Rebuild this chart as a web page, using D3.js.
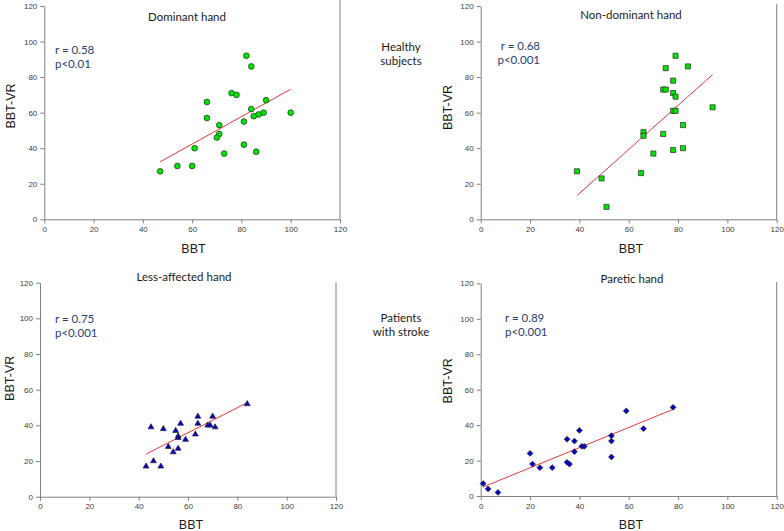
<!DOCTYPE html>
<html><head><meta charset="utf-8">
<script src="https://cdn.jsdelivr.net/npm/d3@7"></script>
<style>body{margin:0;background:#fff}svg{display:block}</style>
</head><body><svg id="c" width="784" height="531"></svg>
<script>
// ---- data ----
const xTicks = [0, 20, 40, 60, 80, 100, 120];
const yTicks = [0, 20, 40, 60, 80, 100, 120];
const titles = ["Dominant hand", "Non-dominant hand", "Less-affected hand", "Paretic hand"];
const statR = ["r = 0.58", "r = 0.68", "r = 0.75", "r = 0.89"];
const statP = ["p<0.01", "p<0.001", "p<0.001", "p<0.001"];
const groupLabels = [["Healthy", "subjects"], ["Patients", "with stroke"]];
const xLabel = "BBT";
const yLabel = "BBT-VR";

// Healthy subjects – dominant hand
const domBBT = [47, 54, 60, 61, 66, 66, 71, 71, 70, 73, 76, 78, 82, 84, 84, 81, 85, 87, 89, 90, 81, 86, 100];
const domVR  = [27, 30, 30, 40, 66, 57, 53, 48, 46, 37, 71, 70, 92, 86, 62, 55, 58, 59, 60, 67, 42, 38, 60];
// Healthy subjects – non-dominant hand
const nondomBBT = [39, 49, 51, 65, 66, 66, 70, 74, 74, 75, 75, 78, 78, 79, 78, 79, 79, 84, 82, 78, 82, 94];
const nondomVR  = [27, 23, 7, 26, 49, 47, 37, 48, 73, 73, 85, 78, 71, 69, 61, 61, 92, 86, 53, 39, 40, 63];
// Patients with stroke – less-affected hand
const lessBBT = [43, 46, 49, 45, 50, 52, 54, 56, 55, 57, 56, 56, 59, 63, 64, 64, 68, 69, 70, 71, 84];
const lessVR  = [17, 20, 17, 39, 38, 28, 25, 27, 37, 41, 34, 33, 32, 35, 45, 41, 40, 40, 45, 39, 52];
// Patients with stroke – paretic hand
const pareticBBT = [1, 3, 7, 20, 21, 24, 29, 35, 35, 36, 38, 38, 40, 41, 42, 53, 53, 53, 59, 66, 78];
const pareticVR  = [7, 4, 2, 24, 18, 16, 16, 32, 19, 18, 31, 25, 37, 28, 28, 34, 31, 22, 48, 38, 50];

// regression line end points
const fitDomBBT = [47, 100],   fitDomVR = [32.3, 73.2];
const fitNondomBBT = [39, 94], fitNondomVR = [13.3, 81.4];
const fitLessBBT = [43, 84],   fitLessVR = [23.9, 52.7];
const fitPareticBBT = [1, 78], fitPareticVR = [5.1, 48.9];

// ---- layout ----
const panels = [
  {xs: domBBT, ys: domVR, fx: fitDomBBT, fy: fitDomVR, sym: "circle", fill: "#00e400",
   px: [44.3, 340], py: [219.3, 6], borderTop: 0,
   title: [187, 20.5], r: [55, 53.5, "start"], p: [55, 67.5],
   xl: [193.5, 253], yl: [15, 106]},
  {xs: nondomBBT, ys: nondomVR, fx: fitNondomBBT, fy: fitNondomVR, sym: "square", fill: "#00e400",
   px: [480.7, 776.7], py: [219.3, 6], borderTop: 4,
   title: [631, 18.7], r: [540, 50, "end"], p: [540, 64],
   xl: [631, 253.3], yl: [451.7, 107.5]},
  {xs: lessBBT, ys: lessVR, fx: fitLessBBT, fy: fitLessVR, sym: "triangle", fill: "#0000cc",
   px: [40, 336], py: [496.7, 282.7], borderTop: 282,
   title: [184, 281], r: [55, 322.7, "start"], p: [55, 336.7],
   xl: [191, 529], yl: [14.3, 378.3]},
  {xs: pareticBBT, ys: pareticVR, fx: fitPareticBBT, fy: fitPareticVR, sym: "diamond", fill: "#0000cc",
   px: [480.7, 776.7], py: [496, 283.3], borderTop: 282,
   title: [632, 282.5], r: [505, 322.3, "start"], p: [505, 336.3],
   xl: [631, 529], yl: [451.7, 380.8]}
];

const svg = d3.select("#c");
const axisColor = "#808080";
const tickFont = "'Liberation Sans', Arial, sans-serif";
const calFont = "Lato, 'Open Sans', sans-serif";

panels.forEach((P, i) => {
  const x = d3.scaleLinear().domain([0, 120]).range(P.px);
  const y = d3.scaleLinear().domain([0, 120]).range(P.py);
  const g = svg.append("g");

  // right border line
  g.append("line").attr("x1", x(120)).attr("x2", x(120))
    .attr("y1", P.borderTop).attr("y2", y(0))
    .attr("stroke", axisColor).attr("stroke-width", 1);

  const ax = g.append("g").attr("transform", `translate(0,${y(0)})`)
    .call(d3.axisBottom(x).tickValues(xTicks).tickSize(4).tickSizeOuter(0).tickPadding(3));
  const ay = g.append("g").attr("transform", `translate(${x(0)},0)`)
    .call(d3.axisLeft(y).tickValues(yTicks).tickSize(4).tickSizeOuter(0).tickPadding(3));
  [ax, ay].forEach(a => {
    a.select(".domain").attr("stroke", axisColor);
    a.selectAll(".tick line").attr("stroke", axisColor);
    a.selectAll(".tick text").attr("fill", "#404040")
      .style("font-family", tickFont).style("font-size", "8px");
  });

  // fit line
  const fit = d3.zip(P.fx, P.fy);
  g.append("path").datum(fit)
    .attr("d", d3.line().x(d => x(d[0])).y(d => y(d[1])))
    .attr("stroke", "#e8393d").attr("stroke-width", 1).attr("fill", "none");

  // markers
  const pts = d3.zip(P.xs, P.ys);
  let symType, size, rot = 0;
  if (P.sym === "circle") { symType = d3.symbolCircle; size = Math.PI * 2.9 * 2.9; }
  else if (P.sym === "square") { symType = d3.symbolSquare; size = 26; }
  else if (P.sym === "triangle") { symType = d3.symbolTriangle; size = 15; }
  else { symType = d3.symbolSquare; size = 17; rot = 45; }
  g.selectAll("path.pt").data(pts).join("path").attr("class", "pt")
    .attr("d", d3.symbol().type(symType).size(size))
    .attr("transform", d => `translate(${x(d[0])},${y(d[1])}) rotate(${rot})`)
    .attr("fill", P.fill).attr("stroke", "#2a2a2a").attr("stroke-width", 0.7);

  // title
  g.append("text").attr("x", P.title[0]).attr("y", P.title[1]).attr("text-anchor", "middle")
    .style("font-family", calFont).style("font-size", "11.5px").attr("fill", "#1a1a1a").text(titles[i]);
  // stats
  g.append("text").attr("x", P.r[0]).attr("y", P.r[1]).attr("text-anchor", P.r[2])
    .style("font-family", calFont).style("font-size", "11.5px").attr("fill", "#1f3f73").text(statR[i]);
  g.append("text").attr("x", P.p[0]).attr("y", P.p[1]).attr("text-anchor", P.r[2])
    .style("font-family", calFont).style("font-size", "11.5px").attr("fill", "#1f3f73").text(statP[i]);
  // axis labels
  g.append("text").attr("x", P.xl[0]).attr("y", P.xl[1]).attr("text-anchor", "middle")
    .style("font-family", tickFont).style("font-size", "12.5px").attr("fill", "#1a1a1a").text(xLabel);
  g.append("text").attr("transform", `translate(${P.yl[0]},${P.yl[1]}) rotate(-90)`)
    .attr("text-anchor", "middle")
    .style("font-family", tickFont).style("font-size", "12.5px").attr("fill", "#1a1a1a").text(yLabel);
});

// group labels
const groupPos = [[401, 50.5, 64.5], [401, 321.7, 336]];
groupLabels.forEach((lines, k) => {
  lines.forEach((t, j) => {
    svg.append("text").attr("x", groupPos[k][0]).attr("y", groupPos[k][1 + j])
      .attr("text-anchor", "middle").style("font-family", calFont).style("font-size", "11.5px")
      .attr("fill", "#1a1a1a").text(t);
  });
});
</script></body></html>
